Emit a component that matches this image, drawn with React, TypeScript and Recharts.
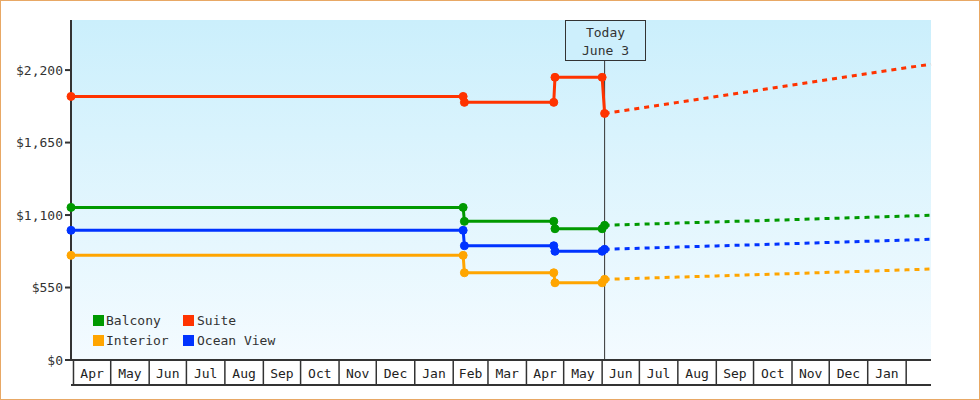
import React from 'react';
import { LineChart, Line, XAxis, YAxis, CartesianGrid, ReferenceLine } from 'recharts';

const FONT = '"DejaVu Sans Mono", monospace';

// Price history (solid, with markers)
const historyDates = ['2016-03-30', '2017-02-09', '2017-02-10', '2017-04-23', '2017-04-24', '2017-06-01', '2017-06-03'];
const balconyHistory = [1158, 1158, 1052, 1052, 996, 996, 1022];
const suiteHistory = [2000, 2000, 1955, 1955, 2145, 2145, 1871];
const interiorHistory = [794, 794, 662, 662, 586, 586, 612];
const oceanHistory = [984, 984, 867, 867, 825, 825, 840];

// Projection (dashed)
const forecastDates = ['2017-06-03', '2017-07-01', '2017-08-01', '2017-09-01', '2017-10-01', '2017-11-01', '2017-12-01', '2018-01-01', '2018-02-01', '2018-02-21'];
const balconyForecast = [1022, 1030, 1039, 1048, 1056, 1065, 1074, 1083, 1092, 1098];
const suiteForecast = [1871, 1911, 1955, 1999, 2042, 2086, 2129, 2173, 2217, 2245];
const interiorForecast = [612, 620, 629, 638, 647, 656, 665, 674, 684, 690];
const oceanForecast = [840, 848, 857, 866, 874, 883, 892, 901, 910, 916];

// Axes
const monthStarts = [
  '2016-04-01', '2016-05-01', '2016-06-01', '2016-07-01', '2016-08-01', '2016-09-01', '2016-10-01', '2016-11-01', '2016-12-01',
  '2017-01-01', '2017-02-01', '2017-03-01', '2017-04-01', '2017-05-01', '2017-06-01', '2017-07-01', '2017-08-01', '2017-09-01',
  '2017-10-01', '2017-11-01', '2017-12-01', '2018-01-01', '2018-02-01',
];
const monthLabels = ['Apr', 'May', 'Jun', 'Jul', 'Aug', 'Sep', 'Oct', 'Nov', 'Dec', 'Jan', 'Feb', 'Mar', 'Apr', 'May', 'Jun', 'Jul', 'Aug', 'Sep', 'Oct', 'Nov', 'Dec', 'Jan'];
const yTicks = [0, 550, 1100, 1650, 2200];
const yMax = 2580;
const xRange = ['2016-03-30', '2018-02-21'];
const todayDate = '2017-06-03';

const day = (s: string) => Date.parse(s + 'T00:00:00Z') / 86400000;
const rows = (dates: string[], values: number[]) => dates.map((d, i) => ({ t: day(d), v: values[i] }));

const series = [
  { name: 'Interior', color: '#ffa500', history: interiorHistory, forecast: interiorForecast },
  { name: 'Ocean View', color: '#0033ff', history: oceanHistory, forecast: oceanForecast },
  { name: 'Balcony', color: '#009900', history: balconyHistory, forecast: balconyForecast },
  { name: 'Suite', color: '#ff3300', history: suiteHistory, forecast: suiteForecast },
];
const colorOf = (name: string) => series.find((s) => s.name === name)!.color;

// legend grid: rows of names
const legendRows = [
  ['Balcony', 'Suite'],
  ['Interior', 'Ocean View'],
];

const startTicks = monthStarts.map(day);
const midTicks = startTicks.slice(0, -1).map((t, i) => (t + startTicks[i + 1]) / 2);
const domain = [day(xRange[0]), day(xRange[1])];

function TodayLabel(props: any) {
  const vb = props.viewBox || {};
  const cx = Math.round(vb.x);
  const top = vb.y;
  return (
    <g>
      <rect x={cx - 39.5} y={top + 0.5} width={80} height={40} fill="#cdeffc" stroke="#333" strokeWidth={1} />
      <text x={cx + 0.5} y={top + 17} textAnchor="middle" fontFamily={FONT} fontSize={13} fill="#333">Today</text>
      <text x={cx + 0.5} y={top + 35} textAnchor="middle" fontFamily={FONT} fontSize={13} fill="#333">June 3</text>
    </g>
  );
}

export default function App() {
  return (
    <div style={{ position: 'absolute', left: 0, top: 0, width: 980, height: 400, fontFamily: FONT }}>
      <LineChart width={980} height={400} margin={{ top: 20, right: 49, bottom: 14, left: 11 }}>
        <defs>
          <linearGradient id="plotBg" x1="0" y1="0" x2="0" y2="1">
            <stop offset="0%" stopColor="#cbeffc" />
            <stop offset="100%" stopColor="#f4fbff" />
          </linearGradient>
        </defs>
        <CartesianGrid xAxisId="main" fill="url(#plotBg)" horizontal={false} vertical={false} />
        {/* month labels under the x axis line */}
        <XAxis
          xAxisId="main"
          dataKey="t"
          type="number"
          domain={domain}
          ticks={midTicks}
          interval={0}
          tickFormatter={(_v: number, i: number) => monthLabels[i]}
          height={25}
          tickLine={false}
          tickSize={0}
          tickMargin={9}
          axisLine={{ stroke: '#333', strokeWidth: 2 }}
          tick={{ fill: '#222', fontSize: 13, fontFamily: FONT }}
        />
        {/* bottom rule with month separators pointing back up */}
        <XAxis
          xAxisId="sep"
          dataKey="t"
          type="number"
          domain={domain}
          ticks={startTicks}
          interval={0}
          tickFormatter={() => ''}
          height={1}
          tickSize={-25}
          tickLine={{ stroke: '#333', strokeWidth: 1.5 }}
          axisLine={{ stroke: '#333', strokeWidth: 2 }}
        />
        <YAxis
          type="number"
          domain={[0, yMax]}
          ticks={yTicks}
          width={60}
          tickSize={6}
          tickMargin={2}
          tickFormatter={(v: number) => '$' + v.toLocaleString('en-US')}
          axisLine={{ stroke: '#333', strokeWidth: 2 }}
          tickLine={{ stroke: '#333', strokeWidth: 2 }}
          tick={{ fill: '#333', fontSize: 13, fontFamily: FONT }}
        />
        <ReferenceLine xAxisId="main" x={day(todayDate)} stroke="#333" strokeWidth={1} label={<TodayLabel />} />
        {series.map((s) => (
          <Line
            key={s.name + '-f'}
            xAxisId="sep"
            data={rows(forecastDates, s.forecast)}
            dataKey="v"
            type="linear"
            stroke={s.color}
            strokeWidth={3}
            strokeDasharray="5 5"
            dot={false}
            isAnimationActive={false}
          />
        ))}
        {series.map((s) => (
          <Line
            key={s.name}
            xAxisId="main"
            data={rows(historyDates, s.history)}
            dataKey="v"
            name={s.name}
            type="linear"
            stroke={s.color}
            strokeWidth={3}
            dot={{ r: 4, fill: s.color, stroke: s.color, strokeWidth: 1 }}
            isAnimationActive={false}
          />
        ))}
      </LineChart>
      {legendRows.map((row, ri) =>
        row.map((name, ci) => (
          <React.Fragment key={name}>
            <div style={{ position: 'absolute', left: 93 + ci * 90, top: 315 + ri * 20, width: 11, height: 11, background: colorOf(name) }} />
            <span style={{ position: 'absolute', left: 106 + ci * 91, top: 313 + ri * 20, fontSize: 13, lineHeight: '15px', color: '#333', whiteSpace: 'nowrap' }}>
              {name}
            </span>
          </React.Fragment>
        ))
      )}
      <div style={{ position: 'absolute', left: 0, top: 0, width: 980, height: 400, boxSizing: 'border-box', border: '1px solid #e8a865', pointerEvents: 'none' }} />
    </div>
  );
}
